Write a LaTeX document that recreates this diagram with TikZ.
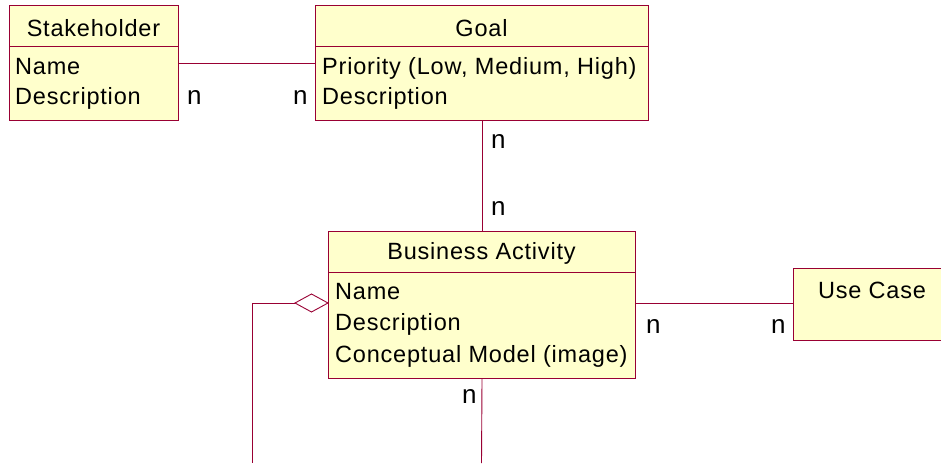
\documentclass[tikz,border=0pt]{standalone}
\usepackage{fontspec}
\setmainfont{Liberation Sans}[LetterSpace=3.4]
\newfontfamily\multfont{Liberation Sans}
\definecolor{umlborder}{RGB}{153,0,51}
\definecolor{umlfill}{RGB}{255,255,204}
\tikzset{
  classbox/.style={draw=umlborder, fill=umlfill, line width=1pt, rectangle,
    inner sep=0pt, anchor=north west},
  classtitle/.style={anchor=base, inner sep=0pt, font=\fontsize{23.5}{25}\selectfont},
  classattr/.style={anchor=base west, inner sep=0pt, font=\fontsize{23.5}{25}\selectfont},
  mult/.style={anchor=base west, inner sep=0pt, font=\multfont\fontsize{26}{28}\selectfont},
  link/.style={draw=umlborder, line width=0.9pt},
}
\begin{document}
\begin{tikzpicture}[x=1pt,y=-1pt]
\useasboundingbox (0,0) rectangle (941,463);

% classes
\node[classbox, minimum width=169pt, minimum height=115pt] (sh) at (9,5) {};
\node[classbox, minimum width=333pt, minimum height=115pt] (goal) at (315,5) {};
\node[classbox, minimum width=307pt, minimum height=147pt] (ba) at (328,231) {};
\node[classbox, minimum width=160pt, minimum height=72pt] (uc) at (793,268) {};

% header dividers
\draw[link] ([yshift=-41pt]sh.north west) -- ([yshift=-41pt]sh.north east);
\draw[link] ([yshift=-41pt]goal.north west) -- ([yshift=-41pt]goal.north east);
\draw[link] ([yshift=-41pt]ba.north west) -- ([yshift=-41pt]ba.north east);

% class texts
\node[classtitle] (shT) at (93.5,36) {Stakeholder};
\node[classattr] (shA1) at (15,74) {Name};
\node[classattr] (shA2) at (15,104) {Description};

\node[classtitle] (goalT) at (481.5,36) {Goal};
\node[classattr] (goalA1) at (322,74) {Priority (Low, Medium, High)};
\node[classattr] (goalA2) at (322,104) {Description};

\node[classtitle] (baT) at (481.5,259) {Business Activity};
\node[classattr] (baA1) at (335,299) {Name};
\node[classattr] (baA2) at (335,330) {Description};
\node[classattr] (baA3) at (335,362) {Conceptual Model (image)};

\node[classtitle] (ucT) at (872,298) {Use Case};

% associations
\draw[link] (sh.east) -- (goal.west);
\draw[link] (goal.south) -- (ba.north);
\draw[link] ([yshift=2pt]ba.east) -- ([yshift=2pt]ba.east -| uc.west);

% aggregation of business activities
\coordinate (aggTip) at ([yshift=2pt]ba.west);
\coordinate (aggL) at ([xshift=-33pt]aggTip);
\coordinate (selfEnd) at (252,463);
\draw[link] (aggL) -- (aggL -| selfEnd) -- (selfEnd);
\draw[link, fill=white] (aggTip) -- ++(-16.5,-9) -- (aggL) -- ++(16.5,9) -- cycle;

\coordinate (baDown) at (481.5,463);
\draw[link] (ba.south) -- (baDown);

% multiplicities
\node[mult] (m1) at (187,104) {n};
\node[mult] (m2) at (293,104) {n};
\node[mult] (m3) at (491,148) {n};
\node[mult] (m4) at (491,215) {n};
\node[mult] (m5) at (646,333) {n};
\node[mult] (m6) at (771,333) {n};
\node[mult] (m7) at (462,403) {n};
\end{tikzpicture}
\end{document}
